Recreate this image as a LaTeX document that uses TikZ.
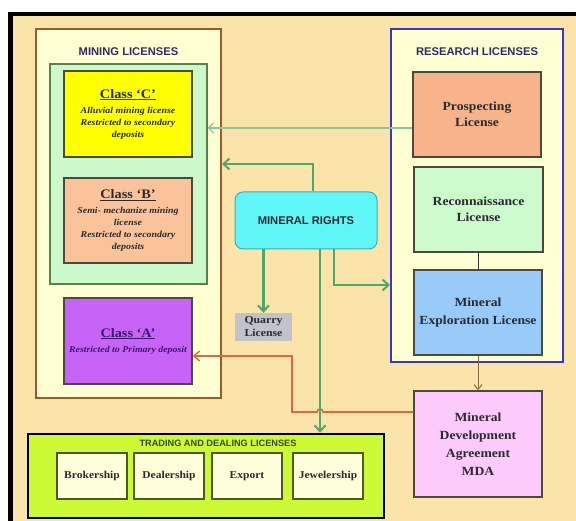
\documentclass[tikz,border=0pt]{standalone}
\usepackage{fontspec}
\setmainfont{Liberation Serif}
\setsansfont{Liberation Sans}
\newfontfamily\bx[FakeStretch=1.1]{Liberation Serif}
\usetikzlibrary{arrows.meta}
\definecolor{bg}{HTML}{FBE4AA}
\definecolor{paleyel}{HTML}{FFFFD4}
\definecolor{minebr}{HTML}{9C5A28}
\definecolor{palegrn}{HTML}{CCF9CC}
\definecolor{grnline}{HTML}{5A8050}
\definecolor{classC}{HTML}{FFFF00}
\definecolor{classB}{HTML}{FBC39A}
\definecolor{classA}{HTML}{C764F7}
\definecolor{prosp}{HTML}{F7B48A}
\definecolor{recon}{HTML}{CCFACC}
\definecolor{explo}{HTML}{99CBFA}
\definecolor{mdac}{HTML}{FCCBFC}
\definecolor{mrc}{HTML}{60F6F8}
\definecolor{mrline}{HTML}{3AAFC0}
\definecolor{quarryc}{HTML}{C2C2CA}
\definecolor{trade}{HTML}{CCFA35}
\definecolor{tradebox}{HTML}{FFFFDC}
\definecolor{tradeline}{HTML}{4A5A2A}
\definecolor{resblue}{HTML}{3A36C8}
\definecolor{arrgrn}{HTML}{4FA86A}
\definecolor{lightarr}{HTML}{8CC49C}
\definecolor{redarr}{HTML}{E8643E}
\definecolor{brownarr}{HTML}{8A6A40}
\definecolor{navy}{HTML}{2C2C6A}
\definecolor{darktxt}{HTML}{2A2A30}
\definecolor{boxline}{HTML}{4A4A40}
\definecolor{purtxt}{HTML}{3A1870}
\definecolor{olivetxt}{HTML}{3A4A10}
\begin{document}
\begin{tikzpicture}[x=1pt,y=-1pt,
  box/.style={draw=boxline, line width=1.3pt, inner sep=0pt, align=center},
  bigtxt/.style={font=\bx\bfseries\fontsize{12.4}{16}\selectfont, text=darktxt},
  classtxt/.style={font=\bx\bfseries\itshape\fontsize{9}{12}\selectfont, text=darktxt},
  ttl/.style={font=\sffamily\bfseries\fontsize{11.2}{13}\selectfont, text=navy, inner sep=0pt},
  tradeitem/.style={draw=tradeline, line width=1.3pt, fill=tradebox, minimum width=70, minimum height=46, inner sep=0pt,
    font=\bx\bfseries\fontsize{10.5}{12}\selectfont, text=darktxt},
  grnarrow/.style={draw=arrgrn, line width=2.2pt, -{Straight Barb[length=6pt,width=11pt,line width=2pt]}},
  lightarrow/.style={draw=lightarr, line width=1.3pt, -{Straight Barb[length=5pt,width=10pt,line width=1.2pt]}},
  redarrow/.style={draw=redarr, line width=1.6pt, -{Straight Barb[length=6pt,width=10pt,line width=1.4pt]}},
  brownarrow/.style={draw=brownarr, line width=1pt, -{Straight Barb[length=5pt,width=8pt,line width=1pt]}}
]
\useasboundingbox (0,0) rectangle (576,521);
\fill[white] (0,0) rectangle (576,521);
\fill[bg] (8,12) rectangle (576,521);
\fill[black] (8,12) rectangle (576,16);
\fill[black] (8,12) rectangle (12.5,521);

% Mining licenses
\node[draw=minebr, line width=2pt, fill=paleyel, minimum width=185, minimum height=369, inner sep=0pt] (mining) at (128.5,213.5) {};
\node[ttl] (minetitle) at (128.5,52) {MINING LICENSES};
\node[draw=grnline, line width=1.5pt, fill=palegrn, minimum width=157, minimum height=220, inner sep=0pt] (green) at (128.5,174) {};
\node[box, fill=classC, minimum width=128, minimum height=86, classtxt] (classC) at (128,114)
  {{\upshape\fontsize{13}{14}\selectfont\underline{Class ‘C’}}\\[3pt]
   Alluvial mining license\\ Restricted to secondary\\ deposits};
\node[box, fill=classB, minimum width=128, minimum height=85, classtxt] (classB) at (128,220.5)
  {{\upshape\fontsize{13}{14}\selectfont\underline{Class ‘B’}}\\[3pt]
   Semi- mechanize mining\\ license\\ Restricted to secondary\\ deposits};
\node[box, fill=classA, minimum width=128, minimum height=86, classtxt, text=purtxt] (classA) at (128,341)
  {{\upshape\fontsize{13}{14}\selectfont\underline{Class ‘A’}}\\[3pt]
   Restricted to Primary deposit};

% Research licenses
\node[draw=resblue, line width=2pt, fill=paleyel, minimum width=172, minimum height=333, inner sep=0pt] (research) at (477,195.5) {};
\node[ttl] (restitle) at (477,52) {RESEARCH LICENSES};
\node[box, fill=prosp, minimum width=128, minimum height=85, bigtxt] (prosp) at (477,114.5) {Prospecting\\ License};
\node[box, fill=recon, minimum width=129, minimum height=85, bigtxt] (recon) at (478.5,209.5) {Reconnaissance\\ License};
\node[box, fill=explo, minimum width=128, minimum height=85, bigtxt, font=\bx\bfseries\fontsize{12.4}{18}\selectfont] (explo) at (478,312.5) {Mineral\\ Exploration License};
\node[box, fill=mdac, minimum width=128, minimum height=106, bigtxt, font=\bx\bfseries\fontsize{12.4}{18}\selectfont] (mda) at (478,444) {Mineral\\ Development\\ Agreement\\ MDA};

% Mineral rights and quarry
\node[draw=mrline, line width=1pt, fill=mrc, rounded corners=8pt, minimum width=142, minimum height=57, inner sep=0pt,
  font=\sffamily\bfseries\fontsize{11.2}{13}\selectfont, text=darktxt] (MR) at (306,220.5) {MINERAL RIGHTS};
\node[fill=quarryc, minimum width=57, minimum height=28, inner sep=0pt, align=center,
  font=\bx\bfseries\fontsize{10.7}{13}\selectfont, text=darktxt] (quarry) at (263.5,327) {Quarry\\ License};

% Trading
\node[draw=black, line width=2.5pt, fill=trade, minimum width=356, minimum height=84, inner sep=0pt] (trading) at (206,476) {};
\node[ttl, text=olivetxt, font=\sffamily\bfseries\fontsize{9.2}{11}\selectfont] (tradetitle) at (218,443) {TRADING AND DEALING LICENSES};
\node[tradeitem] (broker) at (92,476) {Brokership};
\node[tradeitem] (dealer) at (169,476) {Dealership};
\node[tradeitem] (export) at (247,476) {Export};
\node[tradeitem] (jewel) at (328,476) {Jewelership};

% Connectors
\coordinate (hop) at (320,412);
\coordinate (redbend) at (292,356);
\draw[lightarrow] ([yshift=-13.5]prosp.west) -- ([yshift=-13.5]prosp.west -| green.east);
\draw[grnarrow] ([xshift=7]MR.north) |- ([yshift=49.5]mining.east);
\draw[grnarrow] (quarry.north |- MR.south) -- (quarry.north);
\draw[grnarrow] ([xshift=28]MR.south) |- ([yshift=27.5]explo.west -| research.west);
\draw[redarrow] ([yshift=32]mda.west) -- ([xshift=3]hop) arc[start angle=0,end angle=180,radius=3pt] -| (redbend) -- (redbend -| classA.east);
\draw[grnarrow] ([xshift=14]MR.south) -- ([xshift=14]MR.south |- trading.north);
\draw[draw=black!80, line width=1.5pt] (recon.south) -- (recon.south |- explo.north);
\draw[brownarrow] (explo.south) -- (mda.north);
\end{tikzpicture}
\end{document}
